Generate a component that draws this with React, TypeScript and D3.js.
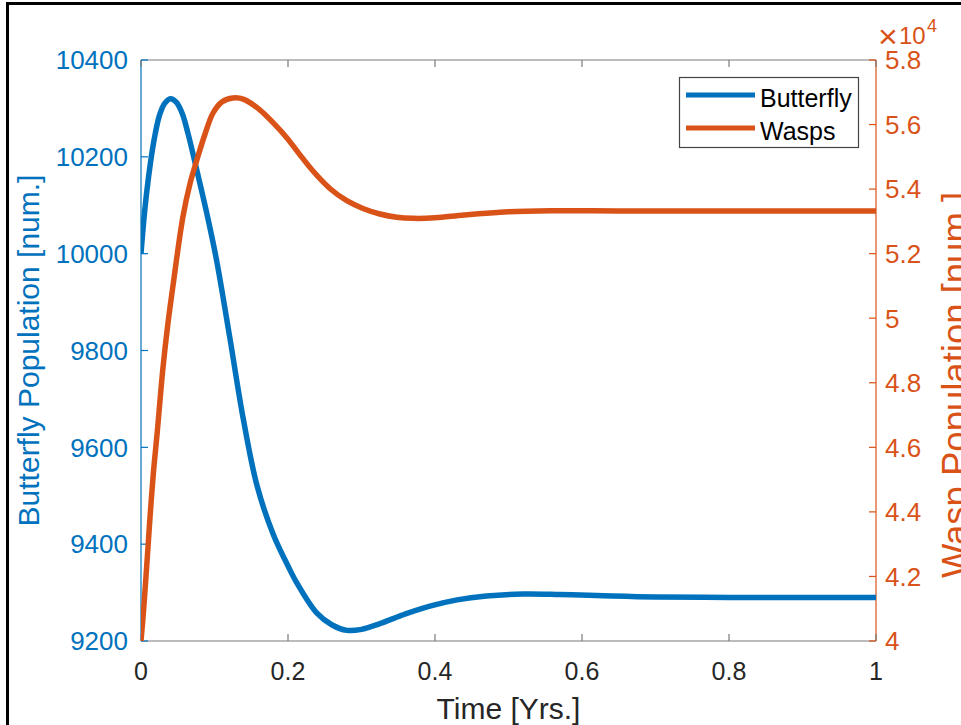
import React from "react";
import * as d3 from "d3";

// ---- data ----
const butterflyT = [0, 0.005, 0.01, 0.017, 0.025, 0.032, 0.04, 0.048, 0.056, 0.064, 0.076, 0.09, 0.103, 0.121, 0.139, 0.158, 0.18, 0.2, 0.212, 0.239, 0.26, 0.28, 0.3, 0.325, 0.36, 0.393, 0.43, 0.47, 0.52, 0.57, 0.62, 0.7, 0.8, 0.9, 1.0];
const butterflyV = [10000, 10088, 10155, 10228, 10285, 10310, 10320, 10313, 10290, 10248, 10172, 10080, 9985, 9825, 9660, 9520, 9420, 9355, 9320, 9258, 9233, 9222, 9224, 9236, 9256, 9272, 9285, 9293, 9297, 9296, 9294, 9291, 9290, 9290, 9290];

const waspT = [0, 0.004, 0.008, 0.012, 0.017, 0.022, 0.03, 0.037, 0.044, 0.057, 0.067, 0.076, 0.087, 0.098, 0.11, 0.125, 0.14, 0.162, 0.18, 0.198, 0.215, 0.234, 0.257, 0.28, 0.302, 0.325, 0.348, 0.37, 0.4, 0.44, 0.5, 0.56, 0.65, 0.8, 1.0];
const waspV = [40000, 41100, 42400, 43750, 45250, 46444, 48489, 49900, 51091, 53136, 54200, 54902, 55700, 56358, 56700, 56823, 56780, 56450, 56050, 55600, 55100, 54560, 54020, 53640, 53400, 53230, 53130, 53095, 53110, 53200, 53300, 53330, 53325, 53320, 53320];

const xTicks = [0, 0.2, 0.4, 0.6, 0.8, 1];
const xTickLabels = ["0", "0.2", "0.4", "0.6", "0.8", "1"];
const leftTicks = [9200, 9400, 9600, 9800, 10000, 10200, 10400];
const leftTickLabels = ["9200", "9400", "9600", "9800", "10000", "10200", "10400"];
const rightTicks = [40000, 42000, 44000, 46000, 48000, 50000, 52000, 54000, 56000, 58000];
const rightTickLabels = ["4", "4.2", "4.4", "4.6", "4.8", "5", "5.2", "5.4", "5.6", "5.8"];
const seriesNames = ["Butterfly", "Wasps"];

const BLUE = "#0072BD";
const ORANGE = "#D95319";
const DARK = "#262626";
const AXIS_GRAY = "#7a7a7a";
const FONT = "'Liberation Sans', Arial, Helvetica, sans-serif";

export default function App() {
  const L = 141, R = 876, T = 60, B = 641;
  const x = d3.scaleLinear().domain([0, 1]).range([L, R]);
  const yL = d3.scaleLinear().domain([9200, 10400]).range([B, T]);
  const yR = d3.scaleLinear().domain([40000, 58000]).range([B, T]);

  const bData = butterflyT.map((t, i) => [t, butterflyV[i]] as [number, number]);
  const wData = waspT.map((t, i) => [t, waspV[i]] as [number, number]);

  const lineB = d3.line<[number, number]>().x(d => x(d[0])).y(d => yL(d[1])).curve(d3.curveCatmullRom.alpha(0.5));
  const lineW = d3.line<[number, number]>().x(d => x(d[0])).y(d => yR(d[1])).curve(d3.curveCatmullRom.alpha(0.5));

  const tickLen = 7;

  return (
    <svg width={961} height={725} style={{ position: "absolute", left: 0, top: 0, background: "#fff" }} fontFamily={FONT}>
      <rect x={0} y={0} width={961} height={725} fill="#fff" />
      {/* outer frame */}
      <rect x={7.5} y={3.5} width={1000} height={800} fill="none" stroke="#000" strokeWidth={3} />

      <defs>
        <clipPath id="plotclip">
          <rect x={L} y={T - 3} width={R - L} height={B - T + 3} />
        </clipPath>
      </defs>

      {/* box lines */}
      <line x1={L} x2={R} y1={T} y2={T} stroke={AXIS_GRAY} strokeWidth={1.2} />
      <line x1={L} x2={R} y1={B} y2={B} stroke={AXIS_GRAY} strokeWidth={1.2} />
      <line x1={L} x2={L} y1={T} y2={B} stroke={BLUE} strokeWidth={1.2} />
      <line x1={R} x2={R} y1={T} y2={B} stroke={ORANGE} strokeWidth={1.2} />

      {/* x ticks */}
      {xTicks.map((t, i) => (
        <g key={"xt" + i}>
          <line x1={x(t)} x2={x(t)} y1={B} y2={B - tickLen} stroke={AXIS_GRAY} strokeWidth={1.2} />
          <line x1={x(t)} x2={x(t)} y1={T} y2={T + tickLen} stroke={AXIS_GRAY} strokeWidth={1.2} />
          <text x={x(t)} y={680} textAnchor="middle" fontSize={25} fill={DARK}>{xTickLabels[i]}</text>
        </g>
      ))}

      {/* left ticks */}
      {leftTicks.map((v, i) => (
        <g key={"lt" + i}>
          <line x1={L} x2={L + tickLen} y1={yL(v)} y2={yL(v)} stroke={BLUE} strokeWidth={1.2} />
          <text x={128} y={yL(v) + 9.3} textAnchor="end" fontSize={26} fill={BLUE}>{leftTickLabels[i]}</text>
        </g>
      ))}

      {/* right ticks */}
      {rightTicks.map((v, i) => (
        <g key={"rt" + i}>
          <line x1={R} x2={R - tickLen} y1={yR(v)} y2={yR(v)} stroke={ORANGE} strokeWidth={1.2} />
          <text x={885} y={yR(v) + 9.3} textAnchor="start" fontSize={26} fill={ORANGE}>{rightTickLabels[i]}</text>
        </g>
      ))}

      {/* exponent */}
      <text x={878} y={48} fontSize={34} fill={ORANGE}>×</text>
      <text x={899} y={44} fontSize={24} fill={ORANGE}>10</text>
      <text x={927} y={32} fontSize={18} fill={ORANGE}>4</text>

      {/* series */}
      <g clipPath="url(#plotclip)">
        <path d={lineB(bData) || ""} fill="none" stroke={BLUE} strokeWidth={5.5} strokeLinejoin="round" />
        <path d={lineW(wData) || ""} fill="none" stroke={ORANGE} strokeWidth={5.5} strokeLinejoin="round" />
      </g>

      {/* axis labels */}
      <text x={508.5} y={719} textAnchor="middle" fontSize={30} fill={DARK}>Time [Yrs.]</text>
      <text transform="translate(39,350.5) rotate(-90)" textAnchor="middle" fontSize={30} fill={BLUE}>Butterfly Population [num.]</text>
      <text transform="translate(968,385) rotate(-90)" textAnchor="middle" fontSize={36.5} fill={ORANGE}>Wasp Population [num.]</text>

      {/* legend */}
      <rect x={679.5} y={77.5} width={179} height={70} fill="#fff" stroke="#444" strokeWidth={1.2} />
      <line x1={686} x2={755} y1={95} y2={95} stroke={BLUE} strokeWidth={5} />
      <text x={760} y={107} fontSize={25} fill="#000">{seriesNames[0]}</text>
      <line x1={686} x2={755} y1={128} y2={128} stroke={ORANGE} strokeWidth={5} />
      <text x={760} y={140} fontSize={25} fill="#000">{seriesNames[1]}</text>
    </svg>
  );
}
